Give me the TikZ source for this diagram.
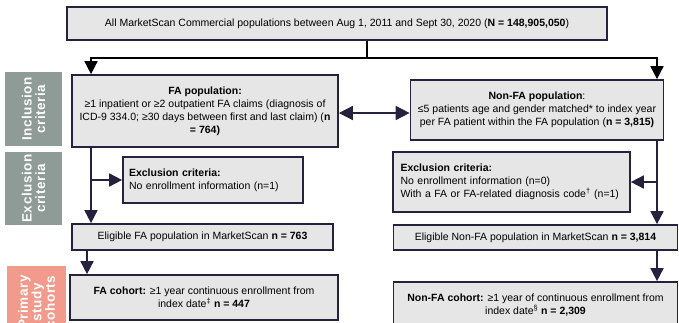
\documentclass[tikz,border=0pt]{standalone}
\usepackage{fontspec}
\setmainfont{Liberation Sans}
\usetikzlibrary{arrows.meta}
\definecolor{boxfill}{HTML}{E6E6E6}
\definecolor{boxline}{HTML}{24223D}
\definecolor{sidegray}{HTML}{8E9B97}
\definecolor{sidesalmon}{HTML}{F29A8B}
\tikzset{
  box/.style={draw=boxline, fill=boxfill, line width=1.7pt, inner sep=2pt, align=center, font=\fontsize{10.5}{13}\selectfont},
  side/.style={fill=#1, text=white, font=\fontsize{13.5}{13.5}\selectfont\bfseries\addfontfeatures{LetterSpace=4}, align=center, rotate=90, inner sep=0pt},
  conn/.style={draw=boxline, line width=1.7pt},
  arr/.style={conn, -{Triangle[width=13pt,length=13pt]}},
  darr/.style={conn, {Triangle[width=14pt,length=14pt]}-{Triangle[width=14pt,length=14pt]}},
}
\begin{document}
\begin{tikzpicture}[x=1pt,y=-1pt]
\useasboundingbox (0,0) rectangle (679,323);
% side labels
\node[side=sidegray, minimum width=74, minimum height=57] (sinc) at (33.5,109) {Inclusion\\criteria};
\node[side=sidegray, minimum width=73, minimum height=57] (sexc) at (33.5,188.5) {Exclusion\\criteria};
\node[side=sidesalmon, minimum width=72, minimum height=59] (scoh) at (36.5,302) {Primary\\study\\cohorts};
% boxes
\node[box, minimum width=540, minimum height=33] (top) at (337,23.5) {All MarketScan Commercial populations between Aug 1, 2011 and Sept 30, 2020 (\textbf{N = 148,905,050})};
\node[box, minimum width=266, minimum height=72] (fa) at (205,111) {\textbf{FA population:}\\ ≥1 inpatient or ≥2 outpatient FA claims (diagnosis of\\ ICD-9 334.0; ≥30 days between first and last claim) (\textbf{n}\\ \textbf{= 764)}};
\node[box, minimum width=253, minimum height=60] (nonfa) at (537,110) {\textbf{Non-FA population}:\\ ≤5 patients age and gender matched* to index year\\ per FA patient within the FA population (\textbf{n = 3,815)}};
\node[box, align=left, minimum width=180, minimum height=46, text width=168] (exc1) at (213,180) {\textbf{Exclusion criteria:}\\ No enrollment information (n=1)};
\node[box, align=left, minimum width=237, minimum height=60, text width=222] (exc2) at (511.5,182) {\textbf{Exclusion criteria:}\\ No enrollment information (n=0)\\ With a FA or FA-related diagnosis code\textsuperscript{†} (n=1)};
\node[box, minimum width=261, minimum height=26] (elig1) at (202.5,237) {Eligible FA population in MarketScan \textbf{n = 763}};
\node[box, minimum width=284, minimum height=25] (elig2) at (535.5,237.5) {Eligible Non-FA population in MarketScan \textbf{n = 3,814}};
\node[box, minimum width=268, minimum height=45] (coh1) at (204,297.5) {\textbf{FA cohort:} ≥1 year continuous enrollment from\\ index date\textsuperscript{‡} \textbf{n = 447}};
\node[box, minimum width=284, minimum height=46] (coh2) at (535.5,305) {\textbf{Non-FA cohort:} ≥1 year of continuous enrollment from\\ index date\textsuperscript{§} \textbf{n = 2,309}};
% connectors
\coordinate (split) at (367,58);
\coordinate (lcol) at (91,0);
\coordinate (rcol) at (657,0);
\draw[conn, draw=black] (top.south -| split) -- (split);
\draw[arr, draw=black] (split) -| (fa.north -| lcol);
\draw[arr, draw=black] (split) -| (nonfa.north -| rcol);
\draw[darr] (fa.east |- 0,113) -- (nonfa.west |- 0,113);
\draw[arr] (fa.south -| lcol) -- (elig1.north -| lcol);
\draw[arr] (exc1.west -| lcol) -- (exc1.west);
\draw[arr] (nonfa.south -| rcol) -- (elig2.north -| rcol);
\draw[arr] (exc2.east -| rcol) -- (exc2.east);
\coordinate (lcol2) at (87,0);
\draw[arr] (elig1.south -| lcol2) -- (coh1.north -| lcol2);
\draw[arr] (elig2.south -| rcol) -- (coh2.north -| rcol);
\end{tikzpicture}
\end{document}
